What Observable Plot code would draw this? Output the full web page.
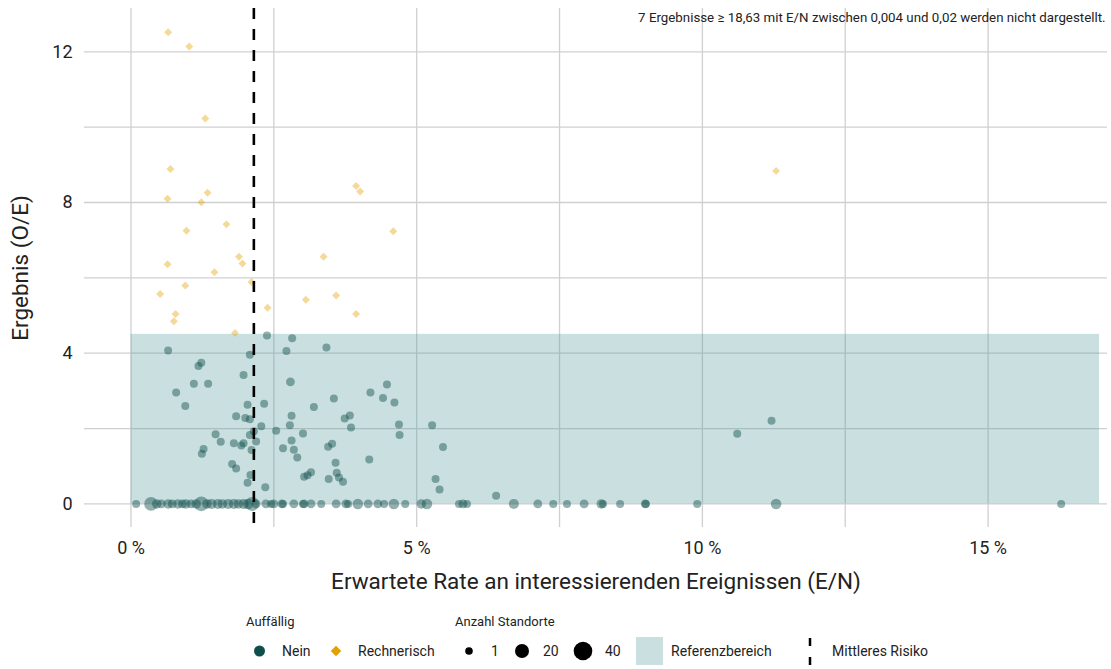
<!DOCTYPE html>
<html>
<head>
<meta charset="utf-8">
<script src="https://cdn.jsdelivr.net/npm/d3@7"></script>
<script src="https://cdn.jsdelivr.net/npm/@observablehq/plot@0.6"></script>
<style>
  html, body { margin: 0; padding: 0; background: #fff; }
  body { width: 1111px; height: 669px; overflow: hidden; font-family: Roboto, "Noto Sans", sans-serif; }
  #chart svg { display: block; }
  #legend { position: relative; width: 1111px; height: 69px; }
</style>
</head>
<body>
<div id="chart"></div>
<div id="legend"></div>
<script>
// ---- Data (x = E/N in %, y = O/E) ----
// Auffällig: Nein (teal circles), with Anzahl Standorte
const neinX = [
  2.38, 2.82, 0.65, 2.08, 2.72, 3.42, 1.23, 1.18, 1.97, 2.79, 1.10, 1.35, 0.79, 4.19, 4.48, 4.41, 3.55, 4.61,
  0.95, 2.33, 2.04, 3.20, 1.84, 2.00, 2.08, 2.81, 3.83, 3.74, 2.78, 3.85, 2.28, 2.54, 3.01, 2.15, 4.69, 5.27,
  4.70, 5.46, 1.48, 1.57, 2.08, 2.19, 1.80, 1.97, 1.93, 2.81, 2.66, 2.85, 1.27, 1.24, 2.11, 3.52, 3.45, 2.91,
  4.17, 3.58, 1.77, 1.84, 3.60, 3.15, 3.09, 3.03, 3.64, 3.71, 3.46, 2.09, 2.04, 2.35, 5.33, 5.40, 6.39, 10.61, 11.21,
  // zero row
  0.09, 0.35, 0.45, 0.53, 0.65, 0.72, 0.82, 0.90, 0.96, 1.05, 1.14, 1.23, 1.33, 1.41, 1.52, 1.60, 1.70, 1.80,
  1.88, 1.97, 2.05, 2.12, 2.19, 2.36, 2.45, 2.50, 2.64, 2.66, 2.85, 3.01, 3.03, 3.15, 3.33, 3.59, 3.76, 3.80,
  3.97, 4.15, 4.32, 4.43, 4.60, 4.80, 5.08, 5.18, 5.74, 5.81, 5.88, 6.70, 7.12, 7.39, 7.63, 7.93, 8.23, 8.26,
  8.56, 9.00, 9.01, 9.91, 11.29, 16.28
];
const neinY = [
  4.47, 4.40, 4.07, 3.96, 4.06, 4.15, 3.75, 3.66, 3.42, 3.24, 3.19, 3.19, 2.96, 2.96, 3.17, 2.81, 2.80, 2.69,
  2.60, 2.66, 2.63, 2.57, 2.33, 2.28, 2.25, 2.34, 2.35, 2.27, 2.09, 2.03, 2.06, 1.94, 1.87, 1.93, 2.11, 2.09,
  1.83, 1.51, 1.85, 1.65, 1.83, 1.66, 1.61, 1.61, 1.55, 1.68, 1.48, 1.44, 1.46, 1.33, 1.43, 1.60, 1.52, 1.23,
  1.18, 1.09, 1.06, 0.94, 0.83, 0.84, 0.76, 0.72, 0.70, 0.59, 0.66, 0.77, 0.56, 0.44, 0.66, 0.38, 0.22, 1.86, 2.21,
  0, 0, 0, 0, 0, 0, 0, 0, 0, 0, 0, 0, 0, 0, 0, 0, 0, 0,
  0, 0, 0, 0, 0, 0, 0, 0, 0, 0, 0, 0, 0, 0, 0, 0, 0, 0,
  0, 0, 0, 0, 0, 0, 0, 0, 0, 0, 0, 0, 0, 0, 0, 0, 0, 0,
  0, 0, 0, 0, 0, 0
];
const neinN = [
  1, 1, 1, 1, 1, 1, 1, 1, 1, 2, 1, 1, 1, 1, 1, 1, 1, 1,
  1, 1, 1, 1, 1, 1, 1, 1, 1, 1, 1, 1, 1, 1, 1, 1, 1, 1,
  1, 1, 1, 1, 1, 1, 1, 1, 1, 1, 1, 1, 1, 1, 1, 1, 1, 1,
  1, 1, 1, 1, 1, 1, 1, 1, 1, 1, 1, 1, 1, 1, 1, 1, 1, 1, 1,
  1, 14, 3, 2, 3, 2, 3, 2, 3, 2, 3, 18, 3, 4, 4, 3, 4, 4,
  3, 4, 5, 15, 2, 2, 1, 2, 2, 1, 2, 1, 2, 2, 1, 2, 2, 1,
  5, 2, 2, 1, 5, 1, 3, 5, 1, 2, 1, 4, 2, 1, 1, 2, 3, 1,
  1, 2, 1, 1, 5, 1
];
// Auffällig: Rechnerisch (orange diamonds)
const rechX = [0.65, 1.02, 1.30, 0.69, 1.34, 0.64, 3.94, 4.01, 1.23, 0.97, 1.67, 4.59, 1.89, 1.95, 0.64, 1.46,
  3.37, 2.11, 0.95, 0.51, 3.59, 3.06, 2.39, 3.94, 0.78, 0.75, 1.82, 11.29];
const rechY = [12.52, 12.14, 10.23, 8.89, 8.26, 8.10, 8.44, 8.29, 8.01, 7.25, 7.42, 7.24, 6.56, 6.38, 6.36, 6.15,
  6.56, 5.89, 5.80, 5.57, 5.53, 5.42, 5.21, 5.04, 5.04, 4.85, 4.54, 8.84];

// Referenzbereich and Mittleres Risiko
const refY = [0, 4.5];
const refX = [0, 16.95];
const meanRisk = [2.15];

const xTicks = [0, 5, 10, 15];
const xGrid = [0, 2.5, 5, 7.5, 10, 12.5, 15];
const yTicks = [0, 4, 8, 12];
const yGrid = [0, 2, 4, 6, 8, 10, 12];
const note = ["7 Ergebnisse \u2265 18,63 mit E/N zwischen 0,004 und 0,02 werden nicht dargestellt."];

const nein = neinX.map((x, i) => ({x, y: neinY[i], n: neinN[i]}));
const rech = rechX.map((x, i) => ({x, y: rechY[i]}));

const teal = "#0f4f4b";
const orange = "#e69f00";

const chart = Plot.plot({
  width: 1111,
  height: 600,
  marginLeft: 84,
  marginRight: 4,
  marginTop: 8,
  marginBottom: 73,
  style: {fontFamily: "Roboto, sans-serif", background: "white", color: "#222"},
  x: {domain: [-0.814, 17.09]},
  y: {domain: [-0.626, 13.15]},
  r: {type: "sqrt", domain: [1, 40], range: [4, 9.5]},
  marks: [
    Plot.gridY(yGrid, {stroke: "#d0d0d0", strokeOpacity: 1, strokeWidth: 1.3}),
    Plot.gridX(xGrid, {stroke: "#d0d0d0", strokeOpacity: 1, strokeWidth: 1.3}),
    Plot.rect([{x1: refX[0], x2: refX[1], y1: refY[0], y2: refY[1]}],
      {x1: "x1", x2: "x2", y1: "y1", y2: "y2", fill: "#4e9498", fillOpacity: 0.3}),
    Plot.dot(nein, {x: "x", y: "y", r: "n", fill: teal, fillOpacity: 0.45, stroke: "none"}),
    Plot.dot(rech, {x: "x", y: "y", r: 3.6, symbol: "diamond2", fill: orange, fillOpacity: 0.4, stroke: "none"}),
    Plot.ruleX(meanRisk, {stroke: "black", strokeWidth: 2.6, strokeDasharray: "11,10"}),
    Plot.text(note, {frameAnchor: "top-right", dx: -2, dy: 4, fontSize: 13.3, fill: "#222"}),
    Plot.axisX(xTicks, {tickSize: 0, tickPadding: 14, fontSize: 18, tickFormat: d => d + " %",
      label: "Erwartete Rate an interessierenden Ereignissen (E/N)", labelArrow: "none", labelAnchor: "center", labelOffset: 61}),
    Plot.axisY(yTicks, {tickSize: 0, tickPadding: 12, fontSize: 18,
      label: "Ergebnis (O/E)", labelArrow: "none", labelAnchor: "center", labelOffset: 72})
  ]
});
chart.querySelectorAll("g[aria-label='x-axis label'] text, g[aria-label='y-axis label'] text").forEach(t => {
  t.setAttribute("font-size", "22.5");
  t.textContent = t.textContent.replace(/\s*[\u2192\u2191]\s*$/, "").replace(/^\s*[\u2191\u2192]\s*/, "");
});
document.getElementById("chart").appendChild(chart);

// ---- Legend ----
const legendItems = {
  colorTitle: "Auffällig",
  colorLabels: ["Nein", "Rechnerisch"],
  sizeTitle: "Anzahl Standorte",
  sizeValues: [1, 20, 40],
  refLabel: "Referenzbereich",
  meanLabel: "Mittleres Risiko"
};
const lg = d3.select("#legend").append("svg").attr("width", 1111).attr("height", 69)
  .style("font-family", "Roboto, sans-serif").style("display", "block");
const ty = 21, iy = 51;
const txt = (x, y, s, fs) => lg.append("text").attr("x", x).attr("y", y).attr("dy", "0.35em")
  .attr("font-size", fs).attr("fill", "#222").text(s);
txt(246, ty, legendItems.colorTitle, 13);
lg.append("circle").attr("cx", 259.5).attr("cy", iy).attr("r", 5.5).attr("fill", teal);
txt(282, iy, legendItems.colorLabels[0], 14);
lg.append("path").attr("d", d3.symbol(d3.symbolDiamond2, 70)()).attr("transform", `translate(336,${iy})`).attr("fill", orange);
txt(358, iy, legendItems.colorLabels[1], 14);
txt(455, ty, legendItems.sizeTitle, 13);
const sx = [469, 522, 583], sr = [3.8, 7, 9.3], stx = [491, 543, 605];
legendItems.sizeValues.forEach((v, i) => {
  lg.append("circle").attr("cx", sx[i]).attr("cy", iy).attr("r", sr[i]).attr("fill", "black");
  txt(stx[i], iy, v, 14);
});
lg.append("rect").attr("x", 636).attr("y", 37).attr("width", 27).attr("height", 28).attr("fill", "#cadfe0");
txt(671, iy, legendItems.refLabel, 14);
lg.append("line").attr("x1", 810).attr("x2", 810).attr("y1", 38).attr("y2", 65).attr("stroke", "black").attr("stroke-width", 2.5).attr("stroke-dasharray", "8,11");
txt(832, iy, legendItems.meanLabel, 14);
</script>
</body>
</html>
